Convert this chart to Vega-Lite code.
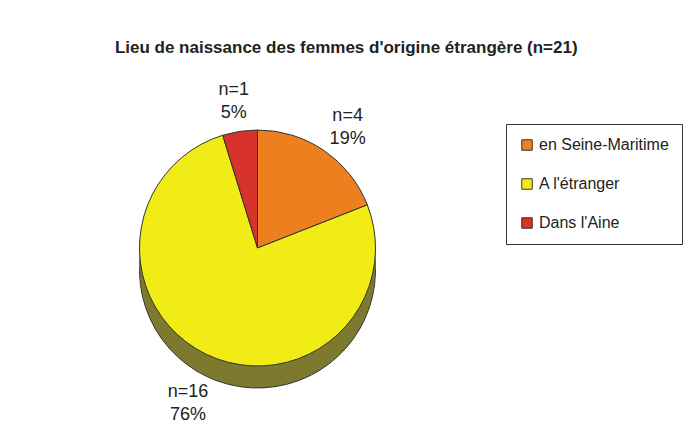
{
  "$schema": "https://vega.github.io/schema/vega-lite/v6.json",
  "width": 495,
  "height": 330,
  "padding": {"left": 10, "top": 38, "right": 0, "bottom": 0},
  "background": "white",
  "title": {
    "text": "Lieu de naissance des femmes d'origine étrangère (n=21)",
    "font": "Liberation Sans, Arial",
    "fontSize": 17,
    "fontWeight": "bold",
    "color": "#222222",
    "anchor": "middle",
    "frame": "bounds",
    "offset": 24
  },
  "data": {
    "values": [
      {"lieu": "en Seine-Maritime", "n": 4, "ordre": 1, "etiquette": "n=4\n19%"},
      {"lieu": "A l'étranger", "n": 16, "ordre": 2, "etiquette": "n=16\n76%"},
      {"lieu": "Dans l'Aine", "n": 1, "ordre": 3, "etiquette": "n=1\n5%"}
    ]
  },
  "encoding": {
    "theta": {"field": "n", "type": "quantitative", "stack": true},
    "order": {"field": "ordre", "type": "quantitative"}
  },
  "layer": [
    {"mark": {"type": "arc", "outerRadius": 118, "yOffset": 22, "fill": "#7D7A30", "stroke": "#333333", "strokeWidth": 1}},
    {"mark": {"type": "arc", "outerRadius": 118, "yOffset": 15, "fill": "#7D7A30"}},
    {"mark": {"type": "arc", "outerRadius": 118, "yOffset": 8, "fill": "#7D7A30"}},
    {"mark": {"type": "arc", "outerRadius": 118, "yOffset": 2, "fill": "#7D7A30"}},
    {
      "mark": {"type": "arc", "outerRadius": 118, "stroke": "#333333", "strokeWidth": 1},
      "encoding": {
        "color": {
          "field": "lieu",
          "type": "nominal",
          "scale": {
            "domain": ["en Seine-Maritime", "A l'étranger", "Dans l'Aine"],
            "range": ["#EE7F1F", "#F2EC16", "#D8332B"]
          },
          "legend": {
            "title": null,
            "orient": "none",
            "legendX": 496,
            "legendY": 41,
            "symbolType": "square",
            "symbolSize": 110,
            "symbolStrokeColor": "#333333",
            "symbolStrokeWidth": 1,
            "labelFont": "Liberation Sans, Arial",
            "labelFontSize": 16,
            "labelColor": "#222222",
            "labelLimit": 200,
            "rowPadding": 23,
            "padding": 13,
            "strokeColor": "#333333",
            "fillColor": "white"
          }
        }
      }
    },
    {
      "mark": {
        "type": "text",
        "radius": 160,
        "lineBreak": "\n",
        "lineHeight": 23,
        "font": "Liberation Sans, Arial",
        "fontSize": 18,
        "color": "#222222"
      },
      "encoding": {"text": {"field": "etiquette"}}
    }
  ],
  "config": {"view": {"stroke": null}}
}
